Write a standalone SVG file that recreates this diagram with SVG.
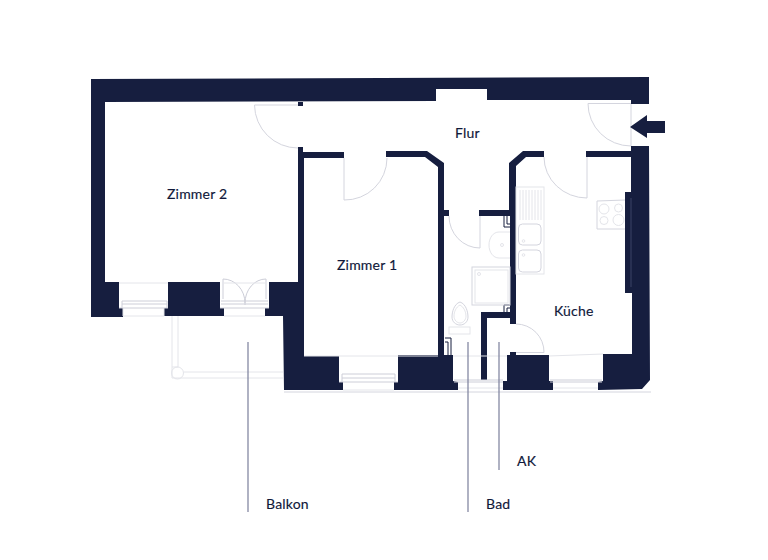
<svg xmlns="http://www.w3.org/2000/svg" width="768" height="560" viewBox="0 0 768 560">
<style>
.w{fill:#161e3f;stroke:none}
.l{fill:none;stroke:#d4d5de;stroke-width:1}
.f{fill:none;stroke:#e4e5ea;stroke-width:1}
.g{fill:none;stroke:#cdced8;stroke-width:1}
.d{fill:none;stroke:#161e3f;stroke-width:1}
.lead{fill:none;stroke:#7b7f9b;stroke-width:1.200}
text{font-family:"Lato","Noto Sans",sans-serif;font-size:14px;fill:#10183a;stroke:#10183a;stroke-width:.15px;letter-spacing:.2px}
</style>
<rect width="768" height="560" fill="#fff"/>
<g id="walls">
<path class="w" d="M91 79L649 77V104H631V100H487V89H436V101L105 102V282H119V308H123V317H91Z"/>
<path class="w" d="M168 282H220V308H224V316H164V308H168Z"/>
<path class="w" d="M298 102H303V106H298Z"/>
<path class="w" d="M298 147H303V152H344V158H304V356H339V382H343V390H284L283 316H265V308H269V282H298Z"/>
<path class="w" d="M386 151H427L444 163V355H453V381L458 382V390H394V382H398V355H438V167L425 157H386Z"/>
<rect class="w" x="444" y="210" width="5" height="6"/>
<path class="w" d="M544 151H523L509 163V210H479V216H510V312H481V380H487V318H510V324H516V166L526 157H544Z"/>
<path class="w" d="M586 151H631V157H586Z"/>
<path class="w" d="M631 146H649L650 380L642 389L598 390V382L603 381V354H632V293H625V192H631Z"/>
<path class="w" d="M510 352H516V355H549V381H553V390H503V381H507V355H510Z"/>
<line x1="631" y1="198" x2="631" y2="287" stroke="#3a4266" stroke-width="1"/>
</g>
<g id="doors">
<path class="l" d="M298 105H254.500A43.500 43.500 0 0 0 298 148"/>
<path class="l" d="M344 158V200A42 42 0 0 0 387 158"/>
<path class="l" d="M480 216V248A31 32 0 0 1 449 216"/>
<path class="l" d="M587 157V198A43 41 0 0 1 544 157"/>
<path class="l" d="M631 103.500H588A43 42.500 0 0 0 631 146V104"/>
<path class="l" d="M516 352.500H544A28 28 0 0 0 516 324"/>
</g>
<g id="windows">
<path class="f" d="M119 283H168M123 316H164M123 308V316M164 308V316"/>
<path class="g" d="M122 301H167M122 304H167M119 308H168M122 301V308M167 301V308"/>
<path class="g" d="M223 299V279A22 24 0 0 1 245 303A21 24 0 0 1 266 279V299M245 303V305"/>
<path class="f" d="M224 283H266M224 316H265"/>
<path class="g" d="M221 301H268M221 304H268M220 308H269"/>
<path class="f" d="M304 356H438M453 356H507M603 354L549 356"/>
<path class="g" d="M342 374H395M342 378H395M339 382H398M342 374V382M395 374V382"/>
<path class="f" d="M343 390H394M458 388H503M553 388H598"/>
<path class="g" d="M454 380H503M454 382H503M550 380H602M550 382H602"/>
<path class="l" d="M284 392H651"/>
</g>
<g id="balkon">
<path class="f" d="M172 316V378H283M178 316V367M184 372H283M172 367H178"/>
<circle class="f" cx="177.500" cy="373" r="6"/>
</g>
<g id="shafts">
<path class="d" d="M445 338H451V355M445 342H448V355"/>
<path class="d" d="M504 216V227H510M507 216V224H510"/>
<path class="d" d="M504 312V305H510M507 312V308H510"/>
</g>
<g id="bad">
<path class="f" d="M510 232H499C493 232 489 238 489 245C489 252 493 258 499 258H510"/>
<circle class="f" cx="502" cy="245" r="1.500"/>
<rect class="l" x="472" y="267" width="38" height="38"/>
<rect class="f" x="475" y="270" width="33" height="33"/>
<circle class="f" cx="479" cy="274" r="1.500"/>
<path class="l" d="M460 302C454 304 452 312 452 317C452 322 456 325 460 325C464 325 468 322 468 317C468 312 466 304 460 302Z"/>
<path class="f" d="M460 305C456 307 454 312 454 316C454 320 457 323 460 323C463 323 466 320 466 316C466 312 464 307 460 305Z"/>
<rect class="f" x="449" y="327" width="21" height="7"/>
</g>
<g id="kueche">
<rect class="f" x="516" y="187" width="28" height="87"/>
<path class="f" d="M520 190V220M523 190V220M526 190V220M529 190V220M532 190V220M535 190V220M538 190V220M541 190V220"/>
<rect class="l" x="518.500" y="224" width="22.500" height="21" rx="4"/>
<rect class="l" x="518.500" y="250" width="22.500" height="22" rx="4"/>
<circle class="f" cx="523.500" cy="241" r="1.300"/>
<circle class="f" cx="523.500" cy="255" r="1.300"/>
<path class="l" d="M625 200L597 201V229H625"/>
<circle class="f" cx="604" cy="209" r="5"/>
<circle class="f" cx="618.500" cy="208" r="4"/>
<circle class="f" cx="604" cy="220.500" r="4"/>
<circle class="f" cx="618.500" cy="220" r="5.500"/>
</g>
<g id="entrance"><path class="w" d="M630 127L647 115V121H665V133H647V138Z"/></g>
<g id="connectors">
<line class="lead" x1="248" y1="342" x2="248" y2="512"/>
<line class="lead" x1="468" y1="342" x2="468" y2="512"/>
<line class="lead" x1="499" y1="342" x2="499" y2="470"/>
</g>
<g id="labels">
<text x="167" y="199">Zimmer 2</text>
<text x="337" y="270">Zimmer 1</text>
<text x="455" y="138">Flur</text>
<text x="554" y="316">Küche</text>
<text x="266" y="509">Balkon</text>
<text x="486" y="509">Bad</text>
<text x="517" y="466">AK</text>
</g>
</svg>
